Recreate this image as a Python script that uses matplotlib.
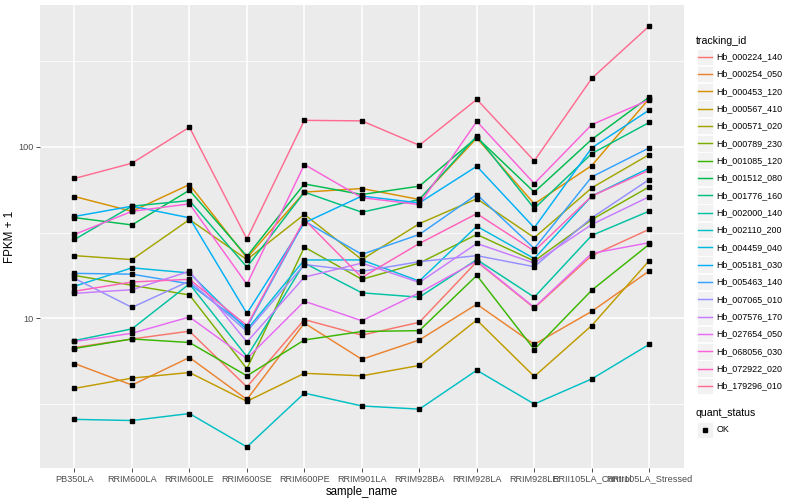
import numpy as np
import matplotlib
matplotlib.use("Agg")
import matplotlib.pyplot as plt
from matplotlib.patches import Rectangle
from matplotlib.lines import Line2D

plt.rcParams['font.family'] = ['Liberation Sans', 'DejaVu Sans']

samples = ["PB350LA", "RRIM600LA", "RRIM600LE", "RRIM600SE", "RRIM600PE", "RRIM901LA",
           "RRIM928BA", "RRIM928LA", "RRIM928LE", "RRII105LA_Control", "RRII105LA_Stressed"]

tracking_ids = ["Hb_000224_140", "Hb_000254_050", "Hb_000453_120", "Hb_000567_410",
                "Hb_000571_020", "Hb_000789_230", "Hb_001085_120", "Hb_001512_080",
                "Hb_001776_160", "Hb_002000_140", "Hb_002110_200", "Hb_004459_040",
                "Hb_005181_030", "Hb_005463_140", "Hb_007065_010", "Hb_007576_170",
                "Hb_027654_050", "Hb_068056_030", "Hb_072922_020", "Hb_179296_010"]

colors = ["#F8766D", "#EA8331", "#D89000", "#C09B00", "#A3A500", "#7CAE00", "#39B600",
          "#00BB4E", "#00BF7D", "#00C1A3", "#00BFC4", "#00BAE0", "#00B0F6", "#35A2FF",
          "#9590FF", "#C77CFF", "#E76BF3", "#FA62DB", "#FF62BC", "#FF6C91"]

# FPKM + 1 per sample (order of `samples`)
hb_000224_140 = [6.78, 7.6, 8.44, 4.0, 9.85, 8.0, 9.5, 21.4, 11.5, 23.2, 33.0]
hb_000254_050 = [5.47, 4.1, 5.93, 3.38, 9.4, 5.79, 7.5, 12.1, 7.07, 11.0, 18.9]
hb_000453_120 = [51.2, 42.0, 60.1, 22.5, 54.3, 57.0, 49.2, 112.0, 46.4, 77.5, 190.0]
hb_000567_410 = [3.92, 4.5, 4.85, 3.3, 4.8, 4.64, 5.33, 9.8, 4.6, 9.1, 21.7]
hb_000571_020 = [23.2, 22.0, 37.6, 22.0, 40.3, 22.0, 35.6, 49.7, 29.5, 57.5, 89.8]
hb_000789_230 = [17.8, 15.6, 13.7, 5.1, 26.0, 16.9, 21.0, 30.8, 21.6, 37.6, 58.3]
hb_001085_120 = [6.69, 7.6, 7.25, 4.64, 7.5, 8.4, 8.5, 17.8, 6.6, 14.6, 27.0]
hb_001512_080 = [38.6, 35.0, 55.7, 23.0, 60.6, 52.6, 58.8, 113.0, 54.3, 110.0, 194.0]
hb_001776_160 = [28.8, 45.0, 48.5, 19.9, 54.3, 41.5, 49.2, 115.0, 43.6, 91.0, 138.0]
hb_002000_140 = [7.44, 8.7, 15.9, 6.0, 21.0, 14.1, 13.3, 22.0, 13.3, 30.4, 42.1]
hb_002110_200 = [2.59, 2.55, 2.80, 1.79, 3.68, 3.1, 2.97, 5.0, 3.18, 4.45, 7.07]
hb_004459_040 = [15.4, 19.7, 18.4, 8.6, 21.9, 21.9, 16.5, 34.4, 22.3, 51.5, 74.9]
hb_005181_030 = [39.2, 45.0, 38.5, 10.7, 36.0, 51.5, 47.0, 76.8, 33.7, 98.2, 163.0]
hb_005463_140 = [18.3, 18.1, 15.9, 8.9, 36.8, 23.6, 30.8, 52.6, 25.5, 66.6, 98.2]
hb_007065_010 = [17.1, 11.6, 16.5, 8.4, 20.6, 18.8, 21.4, 23.2, 20.0, 38.5, 64.3]
hb_007576_170 = [14.0, 14.7, 18.8, 7.3, 17.4, 21.0, 16.2, 27.3, 21.0, 35.2, 51.1]
hb_027654_050 = [7.35, 8.2, 10.2, 5.85, 12.6, 9.7, 14.1, 21.6, 11.6, 23.9, 27.6]
hb_068056_030 = [30.8, 42.0, 46.4, 15.8, 78.6, 50.4, 46.0, 140.0, 60.9, 134.0, 187.0]
hb_072922_020 = [14.4, 16.3, 16.9, 9.1, 37.6, 17.3, 27.3, 40.7, 24.7, 51.5, 72.9]
hb_179296_010 = [65.2, 80.0, 129.5, 29.0, 142.0, 141.0, 101.7, 188.0, 82.5, 249.0, 502.0]

series = [hb_000224_140, hb_000254_050, hb_000453_120, hb_000567_410, hb_000571_020,
          hb_000789_230, hb_001085_120, hb_001512_080, hb_001776_160, hb_002000_140,
          hb_002110_200, hb_004459_040, hb_005181_030, hb_005463_140, hb_007065_010,
          hb_007576_170, hb_027654_050, hb_068056_030, hb_072922_020, hb_179296_010]

W, H = 800, 500
fig = plt.figure(figsize=(8, 5), dpi=100)
fig.patch.set_facecolor("white")

# panel in pixel coordinates
pl, pr, pt, pb = 40, 683.7, 5, 468
ax = fig.add_axes([pl / W, 1 - pb / H, (pr - pl) / W, (pb - pt) / H])
ax.set_facecolor("#EBEBEB")
for s in ax.spines.values():
    s.set_visible(False)

x = np.arange(1, len(samples) + 1)
ax.set_yscale("log")

allv = np.log10(np.concatenate([np.array(v) for v in series]))
lo, hi = allv.min(), allv.max()
pad = 0.05 * (hi - lo)
ax.set_ylim(10 ** (lo - pad), 10 ** (hi + pad))
ax.set_xlim(0.4, len(samples) + 0.6)

# grid
for m in [10 ** 0.5, 10 ** 1.5, 10 ** 2.5]:
    ax.axhline(m, color="white", lw=0.55, zorder=0.5)
for m in [10, 100]:
    ax.axhline(m, color="white", lw=1.1, zorder=0.6)
for xi in x:
    ax.axvline(xi, color="white", lw=1.1, zorder=0.6)

for vals, col in zip(series, colors):
    ax.plot(x, vals, color=col, lw=1.05, zorder=2, solid_capstyle="butt")
for vals in series:
    ax.plot(x, vals, linestyle="none", marker="s", markersize=2.7,
            color="black", zorder=3)

ax.set_yticks([10, 100])
ax.set_yticklabels(["10", "100"])
ax.yaxis.set_minor_locator(matplotlib.ticker.NullLocator())
ax.set_xticks(x)
ax.set_xticklabels(samples)
ax.tick_params(axis="both", which="major", length=2.8, width=0.6, color="#333333",
               labelsize=6.6, labelcolor="#4D4D4D", pad=2)
ax.set_xlabel("sample_name", fontsize=8.3, color="black", labelpad=1.5)
ax.set_ylabel("FPKM + 1", fontsize=8.3, color="black", labelpad=1.5)

# legend (drawn in pixel coordinates of the figure)
def fx(px):
    return px / W

def fy(py):
    return 1 - py / H

fig.text(fx(696), fy(40.5), "tracking_id", fontsize=7.6, ha="left", va="center")
y0, dy = 56.7, 17.33
for i, (tid, col) in enumerate(zip(tracking_ids, colors)):
    yc = y0 + i * dy
    fig.patches.append(Rectangle((fx(696.5), fy(yc + 8.2)), 16.5 / W, 16.4 / H,
                                 transform=fig.transFigure, facecolor="#F2F2F2",
                                 edgecolor="white", lw=0.6))
    fig.lines.append(Line2D([fx(698), fx(711.5)], [fy(yc), fy(yc)],
                            transform=fig.transFigure, color=col, lw=1.05))
    fig.text(fx(716.5), fy(yc), tid, fontsize=6.4, ha="left", va="center")

fig.text(fx(696), fy(413), "quant_status", fontsize=7.6, ha="left", va="center")
yc = 430
fig.patches.append(Rectangle((fx(696.5), fy(yc + 8.2)), 16.5 / W, 16.4 / H,
                             transform=fig.transFigure, facecolor="#F2F2F2",
                             edgecolor="white", lw=0.6))
fig.lines.append(Line2D([fx(704.7)], [fy(yc)], transform=fig.transFigure,
                        linestyle="none", marker="s", markersize=2.7, color="black"))
fig.text(fx(716.5), fy(yc), "OK", fontsize=6.4, ha="left", va="center")

fig.savefig("out.png", dpi=100)
